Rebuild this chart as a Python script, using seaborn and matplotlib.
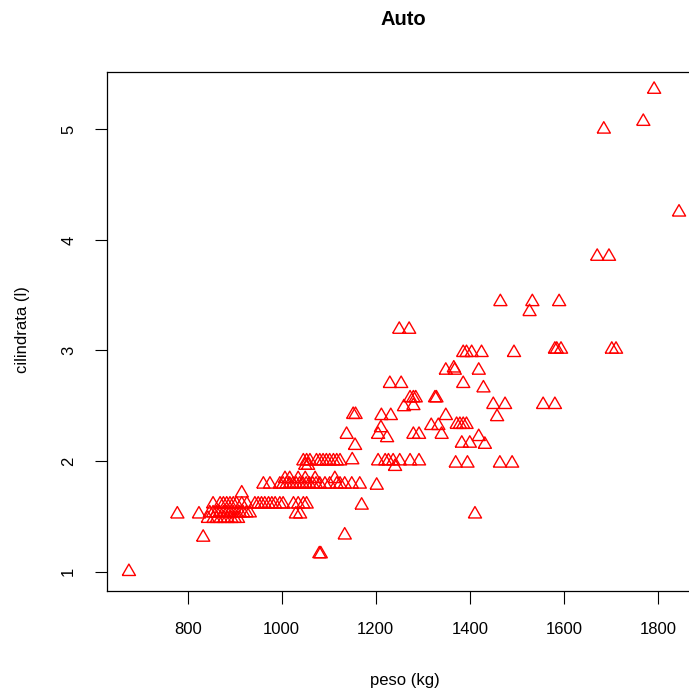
import numpy as np
import pandas as pd
import seaborn as sns
import matplotlib
matplotlib.use("Agg")
import matplotlib.pyplot as plt

# values
peso = [
    675, 778, 824, 833, 915, 1080, 1083, 1134, 1411,
    # 1.48 row
    843, 855, 862, 870, 878, 885, 893, 900, 907,
    # 1.53 row
    847, 854, 861, 868, 876, 883, 890, 897, 904, 911, 918, 925, 932, 1030, 1039,
    # 1.61 row
    854, 869, 876, 883, 890, 897, 904, 915, 926, 943, 950, 957, 964, 972, 979,
    986, 996, 1003, 1025, 1035, 1046, 1053, 1170,
    # 1.79 row
    961, 975, 996, 1003, 1010, 1017, 1024, 1031, 1038, 1045, 1052, 1059, 1066,
    1073, 1081, 1092, 1102, 1117, 1124, 1134, 1149, 1166, 1202,
    # 1.84 row
    1007, 1017, 1035, 1050, 1071, 1113,
    # 2.0 row
    1046, 1053, 1060, 1074, 1081, 1088, 1095, 1102, 1110, 1117, 1124, 1050, 1056,
    1150, 1156, 1138, 1152, 1157,
    # 1200-1300
    1205, 1220, 1227, 1237, 1251, 1273, 1292, 1241, 1205, 1211, 1224, 1212, 1232,
    1230, 1254, 1250, 1271, 1260, 1280, 1273, 1280, 1285, 1280, 1292,
    # 1300-1500
    1318, 1333, 1326, 1329, 1340, 1349, 1366, 1368, 1349, 1372, 1379, 1386, 1393,
    1383, 1400, 1419, 1432, 1370, 1395, 1386, 1429, 1386, 1393, 1404, 1425, 1419,
    1450, 1475, 1458, 1464, 1490, 1494, 1465,
    # 1500+
    1533, 1527, 1590, 1581, 1585, 1594, 1556, 1581, 1671, 1696, 1702, 1711,
    1685, 1769, 1792, 1845,
]
cilindrata = [
    1.00, 1.52, 1.52, 1.31, 1.71, 1.16, 1.16, 1.33, 1.52,
    1.48, 1.48, 1.48, 1.48, 1.48, 1.48, 1.48, 1.48, 1.48,
    1.53, 1.53, 1.53, 1.53, 1.53, 1.53, 1.53, 1.53, 1.53, 1.53, 1.53, 1.53, 1.53,
    1.52, 1.52,
    1.61, 1.61, 1.61, 1.61, 1.61, 1.61, 1.61, 1.61, 1.61, 1.61, 1.61, 1.61, 1.61,
    1.61, 1.61, 1.61, 1.61, 1.61, 1.61, 1.61, 1.61, 1.61, 1.60,
    1.79, 1.79, 1.79, 1.79, 1.79, 1.79, 1.79, 1.79, 1.79, 1.79, 1.79, 1.79, 1.79,
    1.79, 1.79, 1.79, 1.79, 1.79, 1.79, 1.79, 1.79, 1.79, 1.78,
    1.84, 1.84, 1.84, 1.84, 1.84, 1.84,
    2.00, 2.00, 2.00, 2.00, 2.00, 2.00, 2.00, 2.00, 2.00, 2.00, 2.00, 1.96, 1.96,
    2.01, 2.14, 2.24, 2.42, 2.42,
    2.00, 2.00, 2.00, 2.00, 2.00, 2.00, 2.00, 1.95, 2.24, 2.30, 2.21, 2.41, 2.41,
    2.70, 2.70, 3.19, 3.19, 2.49, 2.50, 2.57, 2.57, 2.57, 2.24, 2.24,
    2.32, 2.32, 2.57, 2.57, 2.24, 2.82, 2.84, 2.82, 2.41, 2.33, 2.33, 2.33, 2.33,
    2.16, 2.16, 2.22, 2.15, 1.98, 1.98, 2.70, 2.66, 2.98, 2.98, 2.98, 2.98, 2.82,
    2.51, 2.51, 2.40, 1.98, 1.98, 2.98, 3.44,
    3.44, 3.35, 3.44, 3.01, 3.01, 3.01, 2.51, 2.51, 3.85, 3.85, 3.01, 3.01,
    5.00, 5.07, 5.36, 4.25,
]
x_ticks = [800, 1000, 1200, 1400, 1600, 1800]
y_ticks = [1, 2, 3, 4, 5]

df = pd.DataFrame({"peso": peso, "cilindrata": cilindrata})

sns.set_style("white")
plt.rcParams["font.family"] = ["Liberation Sans", "DejaVu Sans"]
plt.rcParams["text.color"] = "black"
plt.rcParams["axes.labelcolor"] = "black"
plt.rcParams["xtick.color"] = "black"
plt.rcParams["ytick.color"] = "black"

fig = plt.figure(figsize=(6.89, 6.95), dpi=100)
ax = fig.add_axes([0.155, 0.1496, 0.866, 0.7468])

# open triangle like R pch=2
tri = [(-1, -0.577), (1, -0.577), (0, 1.155), (-1, -0.577)]
sns.scatterplot(data=df, x="peso", y="cilindrata", marker=tri, s=120, ax=ax)
pts = ax.collections[0]
pts.set_facecolor("none")
pts.set_edgecolor("red")
pts.set_linewidth(1.0)

ax.set_xlim(628, 1897)
ax.set_ylim(0.825, 5.518)
ax.set_xticks(x_ticks)
ax.set_yticks(y_ticks)
ax.set_xticklabels([str(v) for v in x_ticks])
ax.set_yticklabels([str(v) for v in y_ticks], rotation=90, va="center")
ax.tick_params(direction="out", length=9, width=0.8, colors="black",
               labelsize=12, pad=13, bottom=True, left=True)
for sp in ax.spines.values():
    sp.set_color("black")
    sp.set_linewidth(0.9)

ax.set_xlabel("peso (kg)", fontsize=12, va="center", color="black")
ax.xaxis.set_label_coords(0.5, -0.1715)
ax.set_ylabel("cilindrata (l)", fontsize=12, va="center", color="black")
ax.yaxis.set_label_coords(-0.142, 0.503)
ax.set_title("Auto", fontsize=14.5, fontweight="bold", x=0.497, y=1.085,
             va="center", color="black")

fig.savefig("out.png", dpi=100)
